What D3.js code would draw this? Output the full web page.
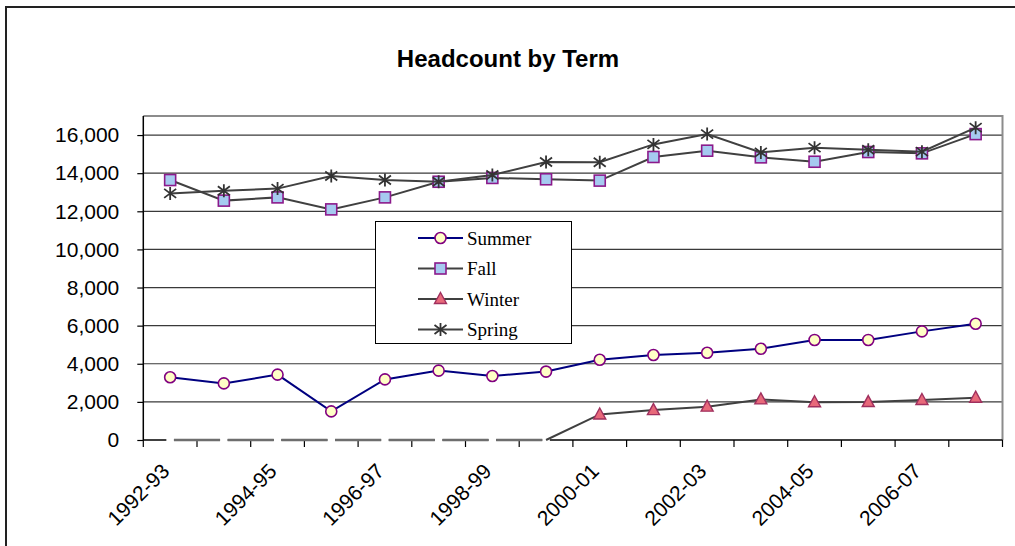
<!DOCTYPE html>
<html>
<head>
<meta charset="utf-8">
<script src="https://cdn.jsdelivr.net/npm/d3@7"></script>
<style>
  html, body { margin: 0; padding: 0; background: #fff; }
  svg { display: block; }
</style>
</head>
<body>
<svg id="chart" width="1015" height="546"></svg>
<script>
// ---- data ----
const categories = ["1992-93","1993-94","1994-95","1995-96","1996-97","1997-98","1998-99","1999-00",
                    "2000-01","2001-02","2002-03","2003-04","2004-05","2005-06","2006-07","2007-08"];
const summer = [3290, 2970, 3430, 1500, 3180, 3640, 3360, 3590, 4210, 4460, 4580, 4790, 5250, 5250, 5700, 6100];
const fall   = [13640, 12560, 12730, 12100, 12730, 13550, 13750, 13680, 13610, 14850, 15180, 14830, 14600, 15110, 15040, 16050];
const winter = [0, 0, 0, 0, 0, 0, 0, 0, 1340, 1570, 1750, 2130, 1980, 1990, 2100, 2220];
const spring = [12940, 13080, 13190, 13850, 13640, 13550, 13900, 14590, 14570, 15510, 16050, 15090, 15340, 15230, 15130, 16390];
const seriesNames = ["Summer", "Fall", "Winter", "Spring"];
const xTickLabels = ["1992-93","1994-95","1996-97","1998-99","2000-01","2002-03","2004-05","2006-07"];
const yTicks = [0, 2000, 4000, 6000, 8000, 10000, 12000, 14000, 16000];
const yMax = 17000;
const chartTitle = "Headcount by Term";

// ---- layout ----
const svg = d3.select("#chart");
const pLeft = 143.3, pRight = 1002.5, pTop = 116, pBottom = 440;

const x = d3.scaleBand().domain(categories).range([pLeft, pRight]).padding(0);
const cx = c => x(c) + x.bandwidth() / 2;
const y = d3.scaleLinear().domain([0, yMax]).range([pBottom, pTop]);

// outer chart border
svg.append("rect").attr("x", 6).attr("y", 7).attr("width", 1030).attr("height", 560)
  .attr("fill", "#fff").attr("stroke", "#222").attr("stroke-width", 2);

// title
svg.append("text").attr("x", 508).attr("y", 67).attr("text-anchor", "middle")
  .attr("font-family", "Arial, 'Liberation Sans', sans-serif").attr("font-weight", "bold")
  .attr("font-size", 24).attr("fill", "#000").text(chartTitle);

// gridlines
svg.append("g").selectAll("line").data(yTicks.filter(d => d > 0)).join("line")
  .attr("x1", pLeft).attr("x2", pRight).attr("y1", d => y(d)).attr("y2", d => y(d))
  .attr("stroke", "#3a3a3a").attr("stroke-width", 1.2);

// plot border top/right
svg.append("path")
  .attr("d", `M${pLeft},${pTop}H${pRight}V${pBottom}`)
  .attr("fill", "none").attr("stroke", "#8c8c8c").attr("stroke-width", 2);

// y axis
const yAxis = svg.append("g").attr("transform", `translate(${pLeft},0)`)
  .call(d3.axisLeft(y).tickValues(yTicks).tickFormat(d3.format(",")).tickSize(6).tickPadding(18));
yAxis.select(".domain").attr("stroke", "#000").attr("stroke-width", 1.5).attr("d", `M0,${pTop}V${pBottom}`);
yAxis.selectAll(".tick line").attr("stroke", "#000").attr("stroke-width", 1.2);
yAxis.selectAll(".tick text").attr("font-family", "Arial, 'Liberation Sans', sans-serif")
  .attr("font-size", 21).attr("fill", "#000");

// x axis line and boundary ticks
const boundaries = categories.map(c => x(c)).concat([x.range()[1]]);
svg.append("line").attr("x1", pLeft).attr("x2", pRight).attr("y1", pBottom).attr("y2", pBottom)
  .attr("stroke", "#000").attr("stroke-width", 1.5);
svg.append("g").selectAll("line").data(boundaries).join("line")
  .attr("x1", d => d).attr("x2", d => d).attr("y1", pBottom).attr("y2", pBottom + 7)
  .attr("stroke", "#000").attr("stroke-width", 1.2);

// x labels
svg.append("g").selectAll("text").data(xTickLabels).join("text")
  .attr("transform", d => `translate(${cx(d) + 0.5},${pBottom + 32.5}) rotate(-45)`)
  .attr("text-anchor", "end")
  .attr("font-family", "Arial, 'Liberation Sans', sans-serif")
  .attr("font-size", 21).attr("fill", "#000").text(d => d);

// ---- series ----
const lineGen = d3.line().x(d => cx(d.c)).y(d => y(d.v));
const toPts = arr => arr.map((v, i) => ({ c: categories[i], v }));

const style = {
  Summer: { line: "#000080", data: summer },
  Fall:   { line: "#404040", data: fall },
  Winter: { line: "#404040", data: winter },
  Spring: { line: "#404040", data: spring }
};

function drawMarker(g, name, px, py) {
  if (name === "Summer") {
    g.append("circle").attr("cx", px).attr("cy", py).attr("r", 5.5)
      .attr("fill", "#FFFFC6").attr("stroke", "#800080").attr("stroke-width", 1.6);
  } else if (name === "Fall") {
    g.append("rect").attr("x", px - 5.5).attr("y", py - 5.5).attr("width", 11).attr("height", 11)
      .attr("fill", "#A6CAF0").attr("stroke", "#8B1A8B").attr("stroke-width", 1.6);
  } else if (name === "Winter") {
    g.append("path").attr("d", `M${px},${py - 6.5}L${px + 6},${py + 4.5}L${px - 6},${py + 4.5}Z`)
      .attr("fill", "#E8697A").attr("stroke", "#A0305E").attr("stroke-width", 1.4);
  } else {
    const s = 6;
    g.append("path")
      .attr("d", `M${px},${py - s - 0.5}V${py + s + 0.5}M${px - s},${py - s * 0.75}L${px + s},${py + s * 0.75}M${px - s},${py + s * 0.75}L${px + s},${py - s * 0.75}`)
      .attr("stroke", "#333").attr("stroke-width", 1.8).attr("fill", "none");
  }
}

seriesNames.forEach(name => {
  const g = svg.append("g");
  const pts = toPts(style[name].data);
  if (name === "Winter") {
    const zeroIdx = pts.map((p, i) => p.v === 0 ? i : -1).filter(i => i >= 0);
    const lastZero = zeroIdx[zeroIdx.length - 1];
    zeroIdx.forEach(i => {
      g.append("line").attr("x1", cx(pts[i].c) - 3.8).attr("x2", cx(pts[i].c) + 3.8)
        .attr("y1", y(0)).attr("y2", y(0)).attr("stroke", "#fff").attr("stroke-width", 3);
    });
    zeroIdx.slice(0, -1).forEach(i => {
      g.append("line").attr("x1", cx(pts[i].c) + 3.8).attr("x2", cx(pts[i + 1].c) - 3.8)
        .attr("y1", y(0)).attr("y2", y(0)).attr("stroke", "#6e6e6e").attr("stroke-width", 2.6);
    });
    const rest = pts.slice(lastZero);
    g.append("path").attr("d", lineGen(rest)).attr("fill", "none")
      .attr("stroke", style[name].line).attr("stroke-width", 2);
    rest.slice(1).forEach(p => drawMarker(g, name, cx(p.c), y(p.v)));
  } else {
    g.append("path").attr("d", lineGen(pts)).attr("fill", "none")
      .attr("stroke", style[name].line).attr("stroke-width", 2);
    pts.forEach(p => drawMarker(g, name, cx(p.c), y(p.v)));
  }
});

// ---- legend ----
const lg = svg.append("g");
lg.append("rect").attr("x", 375.5).attr("y", 221.5).attr("width", 196).attr("height", 122)
  .attr("fill", "#fff").attr("stroke", "#000").attr("stroke-width", 1);
seriesNames.forEach((name, i) => {
  const ly = 238 + i * 30.5;
  lg.append("line").attr("x1", 418).attr("x2", 463).attr("y1", ly).attr("y2", ly)
    .attr("stroke", style[name].line).attr("stroke-width", 2);
  drawMarker(lg, name, 440.5, ly);
  lg.append("text").attr("x", 467).attr("y", ly + 6.5)
    .attr("font-family", "'Times New Roman', 'Liberation Serif', serif")
    .attr("font-size", 19).attr("fill", "#000").text(name);
});
</script>
</body>
</html>
